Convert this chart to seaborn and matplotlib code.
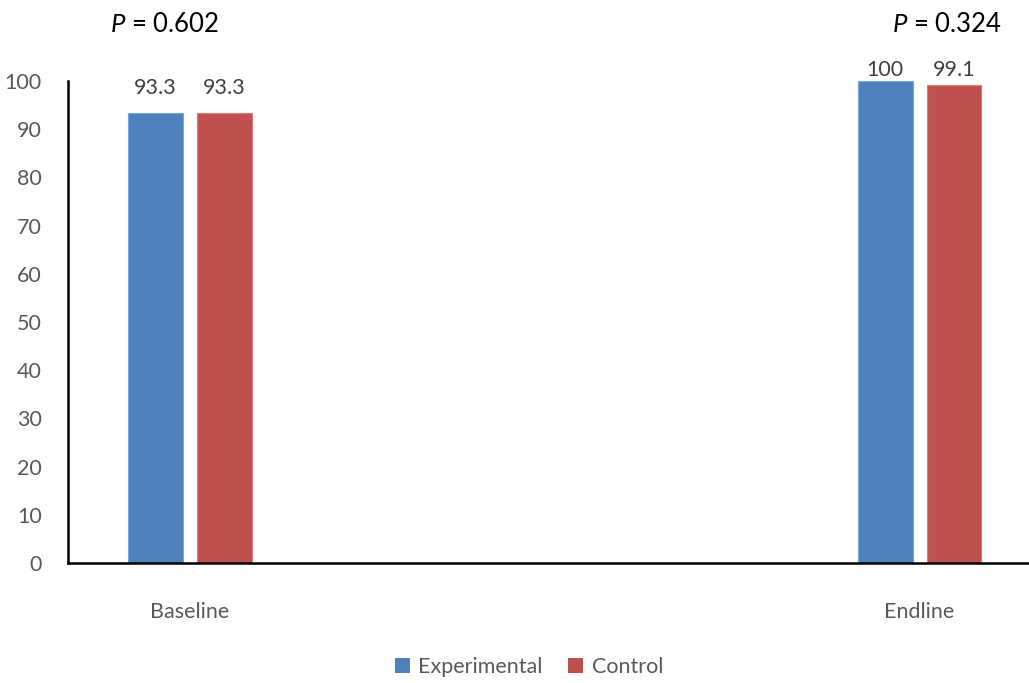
import matplotlib
matplotlib.use("Agg")
import matplotlib.pyplot as plt
import seaborn as sns
import pandas as pd
from matplotlib.patches import Patch

# Data
categories = ["Baseline", "Endline"]
groups = ["Experimental", "Control"]
experimental = [93.3, 100]
control = [93.3, 99.1]
value_labels_exp = ["93.3", "100"]
value_labels_ctl = ["93.3", "99.1"]
p_values = ["0.602", "0.324"]
yticks = [0, 10, 20, 30, 40, 50, 60, 70, 80, 90, 100]

colors = {"Experimental": "#4F81BD", "Control": "#C0504D"}

df = pd.DataFrame({
    "time": categories * 2,
    "group": [groups[0]] * 2 + [groups[1]] * 2,
    "value": experimental + control,
})

sns.set_theme(style="white")
plt.rcParams["font.family"] = ["Lato", "DejaVu Sans"]
plt.rcParams["mathtext.fontset"] = "custom"
plt.rcParams["mathtext.it"] = "Lato:italic"
plt.rcParams["mathtext.rm"] = "Lato"

W, H = 1029, 683
fig = plt.figure(figsize=(W / 100, H / 100), dpi=100)
ax = fig.add_axes([68 / W, (H - 563) / H, (W - 68) / W, (563 - 81) / H])

sns.barplot(data=df, x="time", y="value", hue="group", order=categories,
            hue_order=groups, palette=colors, width=0.1878, gap=0.204,
            ax=ax, legend=False, edgecolor="none", linewidth=0, saturation=1)

for p in ax.patches:
    fc = p.get_facecolor()
    p.set_edgecolor((min(fc[0] + 0.15, 1), min(fc[1] + 0.15, 1), min(fc[2] + 0.15, 1)))
    p.set_linewidth(0.8)

ax.set_ylim(0, 100)
ax.set_xlim(-0.1672, 1.150)
ax.set_yticks(yticks)
ax.set_yticklabels([str(t) for t in yticks])
ax.tick_params(axis="y", length=0, pad=19, labelsize=15.5, labelcolor="#595959")
ax.tick_params(axis="x", length=0, pad=28, labelsize=15.5, labelcolor="#595959")
ax.set_xlabel("")
ax.set_ylabel("")

for side in ["top", "right"]:
    ax.spines[side].set_visible(False)
for side in ["left", "bottom"]:
    ax.spines[side].set_color("black")
    ax.spines[side].set_linewidth(1.8)

# Data labels (Excel pushes labels down to stay inside the chart)
for cont, labs in zip(ax.containers, [value_labels_exp, value_labels_ctl]):
    for bar, lab in zip(cont, labs):
        top = bar.get_height()
        y = min(top + 5.2, 102.2)
        ax.text(bar.get_x() + bar.get_width() / 2, y, lab, ha="center", va="center",
                fontsize=15.5, color="#404040", clip_on=False)

# P values
p_offsets = [-0.035, 0.038]
for i, (pv, off) in enumerate(zip(p_values, p_offsets)):
    ax.text(i + off, 111.8, r"$\it{P}$ = " + pv, ha="center", va="center",
            fontsize=18.5, color="black", clip_on=False)

handles = [Patch(facecolor=colors[g], edgecolor="none") for g in groups]
fig.legend(handles, groups, loc="center", bbox_to_anchor=(529 / W, 1 - 667 / H),
           ncol=2, frameon=False, fontsize=15.5, handlelength=0.7, handleheight=0.7,
           handletextpad=0.4, columnspacing=1.2, labelcolor="#595959")

fig.savefig("out.png", dpi=100)
